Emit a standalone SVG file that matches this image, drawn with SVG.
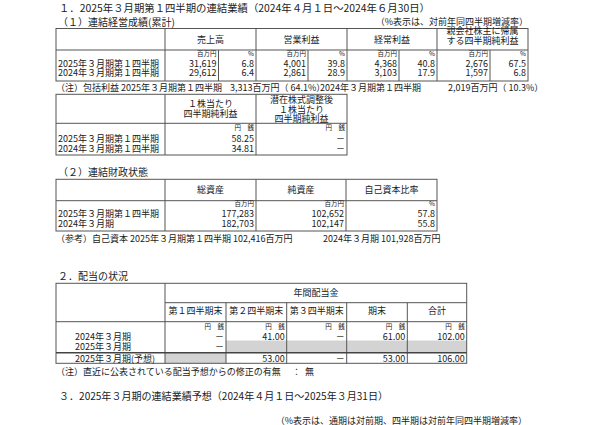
<svg xmlns="http://www.w3.org/2000/svg" width="600" height="425" viewBox="0 0 600 425">
<style>
text{font-family:"Noto Sans CJK JP","Noto Sans",sans-serif;fill:#1a1a1a}
.h{font-size:10px}
.t{font-size:9px}
.u{font-size:6.5px}
.m{text-anchor:middle}
.r{text-anchor:end}
.b{fill:none;stroke:#555;stroke-width:1}
.g{fill:#d3d3d3;stroke:none}
</style>
<rect width="600" height="425" fill="#fff"/>
<g id="section1-title">
<text class="h" x="59" y="11.5" textLength="371" lengthAdjust="spacingAndGlyphs">１．2025年３月期第１四半期の連結業績（2024年４月１日～2024年６月30日）</text>
<text class="h" x="58" y="25.5">（１）連結経営成績(累計)</text>
<text class="t r" x="528" y="25">（%表示は、対前年同四半期増減率）</text>
</g>
<g id="table-results">
<rect class="b" x="56" y="28.5" width="472" height="52.5"/>
<path class="b" d="M56 50H528M165 28.5V81M256 28.5V81M347 28.5V81M437 28.5V81M218.5 50V81M308 50V81M399 50V81M490 50V81"/>
<text class="t m" x="210.5" y="42.7">売上高</text>
<text class="t m" x="301.5" y="42.7">営業利益</text>
<text class="t m" x="392" y="42.7">経常利益</text>
<text class="t m" x="482.5" y="34">親会社株主に帰属</text>
<text class="t m" x="482.5" y="44">する四半期純利益</text>
<text class="u r" x="216.5" y="56">百万円</text><text class="u r" x="254" y="56">%</text>
<text class="u r" x="306" y="56">百万円</text><text class="u r" x="345" y="56">%</text>
<text class="u r" x="397" y="56">百万円</text><text class="u r" x="435" y="56">%</text>
<text class="u r" x="488" y="56">百万円</text><text class="u r" x="526" y="56">%</text>
<text class="t" x="58" y="66.5">2025年３月期第１四半期</text>
<text class="t r" x="216.5" y="66.5">31,619</text><text class="t r" x="254" y="66.5">6.8</text>
<text class="t r" x="306" y="66.5">4,001</text><text class="t r" x="345" y="66.5">39.8</text>
<text class="t r" x="397" y="66.5">4,368</text><text class="t r" x="435" y="66.5">40.8</text>
<text class="t r" x="488" y="66.5">2,676</text><text class="t r" x="526" y="66.5">67.5</text>
<text class="t" x="58" y="76">2024年３月期第１四半期</text>
<text class="t r" x="216.5" y="76">29,612</text><text class="t r" x="254" y="76">6.4</text>
<text class="t r" x="306" y="76">2,861</text><text class="t r" x="345" y="76">28.9</text>
<text class="t r" x="397" y="76">3,103</text><text class="t r" x="435" y="76">17.9</text>
<text class="t r" x="488" y="76">1,597</text><text class="t r" x="526" y="76">6.8</text>
</g>
<g id="note-comprehensive">
<text class="t" x="56" y="91">（注）包括利益 2025年３月期第１四半期</text>
<text class="t" x="230" y="91">3,313百万円（ 64.1%）</text>
<text class="t" x="320" y="91">2024年３月期第１四半期</text>
<text class="t" x="448" y="91">2,019百万円（ 10.3%）</text>
</g>
<g id="table-per-share">
<rect class="b" x="56" y="94.3" width="291" height="60.7"/>
<path class="b" d="M56 123.3H347M165 94.3V155M256 94.3V155"/>
<text class="t m" x="210.5" y="107">１株当たり</text>
<text class="t m" x="210.5" y="117">四半期純利益</text>
<text class="t m" x="301.5" y="103">潜在株式調整後</text>
<text class="t m" x="301.5" y="112.5">１株当たり</text>
<text class="t m" x="301.5" y="121.5">四半期純利益</text>
<text class="u r" x="254" y="130">円　銭</text>
<text class="u r" x="345" y="130">円　銭</text>
<text class="t" x="58" y="141.5">2025年３月期第１四半期</text>
<text class="t r" x="254" y="141.5">58.25</text><text class="t r" x="345" y="141.5">－</text>
<text class="t" x="58" y="151.5">2024年３月期第１四半期</text>
<text class="t r" x="254" y="151.5">34.81</text><text class="t r" x="345" y="151.5">－</text>
</g>
<g id="section1-2-title">
<text class="h" x="58" y="175.5">（２）連結財政状態</text>
</g>
<g id="table-financial">
<rect class="b" x="56" y="179.3" width="381" height="51.7"/>
<path class="b" d="M56 200.7H437M165 179.3V231M256 179.3V231M346 179.3V231"/>
<text class="t m" x="210.5" y="193.3">総資産</text>
<text class="t m" x="301" y="193.3">純資産</text>
<text class="t m" x="391.5" y="193.3">自己資本比率</text>
<text class="u r" x="254" y="205.5">百万円</text>
<text class="u r" x="344" y="205.5">百万円</text>
<text class="u r" x="435" y="205.5">%</text>
<text class="t" x="58" y="216.5">2025年３月期第１四半期</text>
<text class="t r" x="254" y="216.5">177,283</text><text class="t r" x="344" y="216.5">102,652</text><text class="t r" x="435" y="216.5">57.8</text>
<text class="t" x="58" y="226.5">2024年３月期</text>
<text class="t r" x="254" y="226.5">182,703</text><text class="t r" x="344" y="226.5">102,147</text><text class="t r" x="435" y="226.5">55.8</text>
</g>
<g id="note-equity">
<text class="t" x="56" y="241.5">（参考）自己資本 2025年３月期第１四半期 102,416百万円</text>
<text class="t" x="323" y="241.5">2024年３月期 101,928百万円</text>
</g>
<g id="section2-title">
<text class="h" x="58" y="280">２．配当の状況</text>
</g>
<g id="table-dividend">
<rect class="g" x="226" y="340.5" width="240.7" height="12.2"/>
<rect class="g" x="165" y="352.7" width="61" height="10.6"/>
<rect class="b" x="56" y="283.3" width="410.7" height="80"/>
<path class="b" d="M165 302.7H466.7M56 321.7H466.7M165 283.3V363.3M226 302.7V363.3M286.7 302.7V363.3M346.7 302.7V363.3M407.3 302.7V363.3"/>
<path d="M56 352.7H466.7" fill="none" stroke="#444" stroke-width="1.4"/>
<text class="t m" x="316" y="295.5">年間配当金</text>
<text class="t m" x="195.5" y="313.5">第１四半期末</text>
<text class="t m" x="256.3" y="313.5">第２四半期末</text>
<text class="t m" x="316.7" y="313.5">第３四半期末</text>
<text class="t m" x="377" y="313.5">期末</text>
<text class="t m" x="437" y="313.5">合計</text>
<text class="u r" x="224" y="328.5">円　銭</text>
<text class="u r" x="284.7" y="328.5">円　銭</text>
<text class="u r" x="344.7" y="328.5">円　銭</text>
<text class="u r" x="405.3" y="328.5">円　銭</text>
<text class="u r" x="464.7" y="328.5">円　銭</text>
<text class="t" x="75" y="339.5">2024年３月期</text>
<text class="t r" x="224" y="339.5">－</text><text class="t r" x="284.7" y="339.5">41.00</text><text class="t r" x="344.7" y="339.5">－</text><text class="t r" x="405.3" y="339.5">61.00</text><text class="t r" x="464.7" y="339.5">102.00</text>
<text class="t" x="75" y="349.5">2025年３月期</text>
<text class="t r" x="224" y="349.5">－</text>
<text class="t" x="75" y="362">2025年３月期(予想)</text>
<text class="t r" x="284.7" y="362">53.00</text><text class="t r" x="344.7" y="362">－</text><text class="t r" x="405.3" y="362">53.00</text><text class="t r" x="464.7" y="362">106.00</text>
</g>
<g id="note-dividend">
<text class="t" x="56" y="375">（注）直近に公表されている配当予想からの修正の有無</text>
<text class="t" x="292" y="375">：</text>
<text class="t" x="305" y="375">無</text>
</g>
<g id="section3-title">
<text class="h" x="59" y="400" textLength="329" lengthAdjust="spacingAndGlyphs">３．2025年３月期の連結業績予想（2024年４月１日～2025年３月31日）</text>
<text class="t r" x="527" y="423.5">（%表示は、通期は対前期、四半期は対前年同四半期増減率）</text>
</g>
</svg>
